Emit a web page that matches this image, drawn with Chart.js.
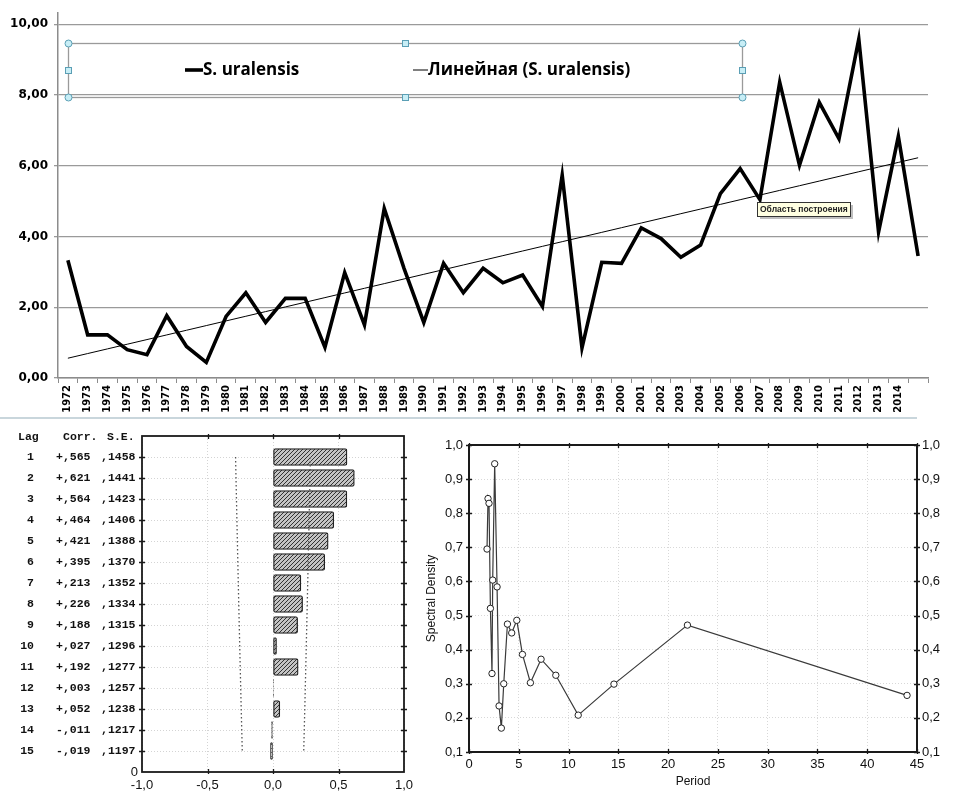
<!DOCTYPE html>
<html>
<head>
<meta charset="utf-8">
<script src="https://cdn.jsdelivr.net/npm/chart.js@4.4.0/dist/chart.umd.min.js"></script>
<style>
  html, body { margin: 0; padding: 0; background: #fff; width: 972px; height: 793px; overflow: hidden; }
  canvas { position: absolute; }
  #sep { position: absolute; left: 0; top: 417px; width: 917px; height: 2px; background: #c9d6dc; }
</style>
</head>
<body>
<canvas id="trend-chart" width="972" height="418" style="left:0;top:0"></canvas>
<div id="sep"></div>
<canvas id="acf-chart" width="420" height="373" style="left:0;top:420px"></canvas>
<canvas id="spectrum-chart" width="552" height="373" style="left:420px;top:420px"></canvas>
<script>
// Top chart: yearly series
const years = [1972, 1973, 1974, 1975, 1976, 1977, 1978, 1979, 1980, 1981, 1982, 1983, 1984, 1985,
  1986, 1987, 1988, 1989, 1990, 1991, 1992, 1993, 1994, 1995, 1996, 1997, 1998, 1999, 2000, 2001,
  2002, 2003, 2004, 2005, 2006, 2007, 2008, 2009, 2010, 2011, 2012, 2013, 2014, 2015];
const uralensis = [3.33, 1.22, 1.22, 0.80, 0.66, 1.76, 0.89, 0.44, 1.74, 2.41, 1.57, 2.25, 2.25, 0.87,
  2.98, 1.50, 4.79, 3.10, 1.57, 3.24, 2.41, 3.10, 2.69, 2.91, 2.02, 5.73, 0.85, 3.27, 3.24, 4.24,
  3.94, 3.41, 3.76, 5.21, 5.92, 5.04, 8.36, 6.01, 7.79, 6.76, 9.58, 4.13, 6.83, 3.45];
const topYTicks = [0, 2, 4, 6, 8, 10];

// Bottom left: autocorrelation table
const lags = [1, 2, 3, 4, 5, 6, 7, 8, 9, 10, 11, 12, 13, 14, 15];
const corr = [0.565, 0.621, 0.564, 0.464, 0.421, 0.395, 0.213, 0.226, 0.188, 0.027, 0.192, 0.003, 0.052, -0.011, -0.019];
const stdErr = [0.1458, 0.1441, 0.1423, 0.1406, 0.1388, 0.1370, 0.1352, 0.1334, 0.1315, 0.1296, 0.1277, 0.1257, 0.1238, 0.1217, 0.1197];
const acfXTicks = [-1, -0.5, 0, 0.5, 1];

// Bottom right: spectral density by period
const periods = [1.81, 1.91, 2.01, 2.15, 2.31, 2.38, 2.58, 2.82, 3.02, 3.25, 3.49, 3.86, 4.29, 4.80,
  5.37, 6.17, 7.24, 8.72, 10.97, 14.56, 21.94, 44.0];
const density = [0.695, 0.843, 0.829, 0.521, 0.330, 0.604, 0.945, 0.584, 0.235, 0.170, 0.300, 0.475,
  0.449, 0.486, 0.386, 0.303, 0.372, 0.325, 0.208, 0.299, 0.472, 0.266];
const specXTicks = [0, 5, 10, 15, 20, 25, 30, 35, 40, 45];
const specYTicks = [0.1, 0.2, 0.3, 0.4, 0.5, 0.6, 0.7, 0.8, 0.9, 1.0];

const comma = (v, d) => v.toFixed(d).replace('.', ',');
const setTicks = arr => scale => { scale.ticks = arr.map(v => ({ value: v })); };

// least squares line, like the spreadsheet "linear" trendline
function linearFit(values) {
  const n = values.length;
  let sx = 0, sy = 0, sxy = 0, sxx = 0;
  values.forEach((y, i) => { sx += i; sy += y; sxy += i * y; sxx += i * i; });
  const b = (n * sxy - sx * sy) / (n * sxx - sx * sx);
  const a = (sy - b * sx) / n;
  return values.map((_, i) => a + b * i);
}

// diagonal hatch fill for the bars
function hatchPattern() {
  const c = document.createElement('canvas');
  c.width = c.height = 4;
  const g = c.getContext('2d');
  g.fillStyle = '#c4c4c4';
  g.fillRect(0, 0, 4, 4);
  g.strokeStyle = '#333';
  g.lineWidth = 1;
  g.beginPath();
  g.moveTo(0, 4); g.lineTo(4, 0);
  g.moveTo(-1, 1); g.lineTo(1, -1);
  g.moveTo(3, 5); g.lineTo(5, 3);
  g.stroke();
  return g.createPattern(c, 'repeat');
}

// legend box with selection handles and the little hint label
const legendBox = {
  id: 'legendBox',
  afterDraw(chart) {
    const c = chart.ctx;
    const ds = chart.data.datasets;
    c.save();
    c.strokeStyle = '#9a9a9a';
    c.lineWidth = 1.3;
    c.strokeRect(68.5, 43.5, 674, 54);
    c.fillStyle = '#c8eef6';
    c.strokeStyle = '#5b9fb5';
    c.lineWidth = 1;
    [[68.5, 43.5], [742.5, 43.5], [68.5, 97.5], [742.5, 97.5]].forEach(([x, y]) => {
      c.beginPath(); c.arc(x, y, 3.5, 0, Math.PI * 2); c.fill(); c.stroke();
    });
    [[405.5, 43.5], [405.5, 97.5], [68.5, 70.5], [742.5, 70.5]].forEach(([x, y]) => {
      c.fillRect(x - 3, y - 3, 6, 6); c.strokeRect(x - 3, y - 3, 6, 6);
    });
    c.strokeStyle = '#000';
    c.fillStyle = '#000';
    c.font = 'bold 17px "Open Sans"';
    c.textBaseline = 'middle';
    c.lineWidth = 3.6;
    c.beginPath(); c.moveTo(185, 70); c.lineTo(203, 70); c.stroke();
    c.fillText(ds[0].label, 203, 70);
    c.lineWidth = 1;
    c.beginPath(); c.moveTo(413, 70); c.lineTo(428, 70); c.stroke();
    c.fillText(ds[1].label, 428, 70);
    // hint label
    c.fillStyle = 'rgba(0,0,0,0.25)';
    c.fillRect(760, 205, 93, 14);
    c.fillStyle = '#ffffe1';
    c.fillRect(757.5, 202.5, 93, 14);
    c.strokeStyle = '#333';
    c.strokeRect(757.5, 202.5, 93, 14);
    c.fillStyle = '#222';
    c.font = 'bold 8.5px "Liberation Sans"';
    c.fillText('Область построения', 760, 210);
    c.restore();
  }
};

new Chart(document.getElementById('trend-chart'), {
  type: 'line',
  data: {
    labels: years,
    datasets: [
      { label: 'S. uralensis', data: uralensis, borderColor: '#000', borderWidth: 3.6,
        pointRadius: 0, borderJoinStyle: 'miter', tension: 0 },
      { label: 'Линейная (S. uralensis)', data: linearFit(uralensis), borderColor: '#000',
        borderWidth: 1, pointRadius: 0 }
    ]
  },
  options: {
    responsive: false,
    animation: false,
    layout: { padding: { top: 0, right: 44, left: 0, bottom: 0 } },
    plugins: { legend: { display: false }, tooltip: { enabled: false } },
    scales: {
      x: {
        offset: true,
        grid: { drawOnChartArea: false, offset: true, tickLength: 5, color: '#8c8c8c' },
        border: { color: '#8c8c8c', width: 1.5 },
        ticks: {
          autoSkip: false, minRotation: 90, maxRotation: 90, padding: 2, color: '#000',
          font: { family: 'DejaVu Sans', weight: 'bold', size: 10 },
          callback: (v, i) => (i < years.length - 1 ? String(years[i]) : '')
        },
        afterFit: s => { s.height = 40; }
      },
      y: {
        min: 0, max: 10.31,
        afterBuildTicks: setTicks(topYTicks),
        grid: { color: '#9a9a9a', lineWidth: 1.3, tickLength: 4 },
        border: { color: '#8c8c8c', width: 1.5 },
        ticks: {
          padding: 6, color: '#000',
          font: { family: 'DejaVu Sans', weight: 'bold', size: 12 },
          callback: v => comma(v, 2)
        },
        afterFit: s => { s.width = 58; }
      }
    }
  },
  plugins: [legendBox]
});

// frame and small tick marks drawn the way the stats package does it
function frameTicks(chart, xVals, yVals, width) {
  const c = chart.ctx;
  const a = chart.chartArea;
  const xs = chart.scales.x, ys = chart.scales.y;
  c.save();
  c.strokeStyle = '#1a1a1a';
  c.lineWidth = 1.3;
  c.beginPath();
  xVals.forEach(v => {
    const px = Math.round(xs.getPixelForValue(v)) + 0.5;
    c.moveTo(px, a.top - 2); c.lineTo(px, a.top + 3);
    c.moveTo(px, a.bottom + 2); c.lineTo(px, a.bottom - 3);
  });
  yVals.forEach(v => {
    const py = Math.round(ys.getPixelForValue(v)) + 0.5;
    c.moveTo(a.left - 3, py); c.lineTo(a.left + 3, py);
    c.moveTo(a.right - 3, py); c.lineTo(a.right + 3, py);
  });
  c.stroke();
  c.lineWidth = width;
  c.strokeRect(a.left, a.top, a.right - a.left, a.bottom - a.top);
  c.restore();
}

const acfTable = {
  id: 'acfTable',
  afterDraw(chart) {
    const c = chart.ctx;
    const ys = chart.scales.y;
    frameTicks(chart, [-0.5, 0, 0.5], lags, 1.8);
    c.save();
    c.fillStyle = '#111';
    c.font = 'bold 11.5px "Liberation Mono"';
    c.textBaseline = 'middle';
    c.textAlign = 'left';
    c.fillText('Lag', 18, 17);
    c.fillText('Corr.', 63, 17);
    c.fillText('S.E.', 107, 17);
    lags.forEach((lag, i) => {
      const y = ys.getPixelForValue(lag);
      const r = corr[i];
      c.textAlign = 'right';
      c.fillText(String(lag), 34, y);
      c.textAlign = 'left';
      c.fillText((r < 0 ? '-' : '+') + ',' + Math.abs(r).toFixed(3).slice(2), 56, y);
      c.fillText(',' + stdErr[i].toFixed(4).slice(2), 101, y);
    });
    c.font = '13px "Liberation Sans"';
    c.textAlign = 'right';
    c.fillText('0', 138, chart.chartArea.bottom);
    c.restore();
  }
};

new Chart(document.getElementById('acf-chart'), {
  type: 'bar',
  data: {
    datasets: [
      { type: 'bar', order: 2, data: lags.map((l, i) => ({ x: corr[i], y: l })),
        backgroundColor: hatchPattern(), borderColor: '#222', borderWidth: 1.3,
        borderSkipped: false, borderRadius: 2, barThickness: 17 },
      { type: 'line', order: 1, data: lags.map((l, i) => ({ x: 1.96 * stdErr[i], y: l })),
        borderColor: '#555', borderWidth: 1.3, borderDash: [1.5, 2.5], pointRadius: 0 },
      { type: 'line', order: 1, data: lags.map((l, i) => ({ x: -1.96 * stdErr[i], y: l })),
        borderColor: '#555', borderWidth: 1.3, borderDash: [1.5, 2.5], pointRadius: 0 }
    ]
  },
  options: {
    responsive: false,
    animation: false,
    indexAxis: 'y',
    layout: { padding: { top: 16, right: 16, left: 0, bottom: 0 } },
    plugins: { legend: { display: false }, tooltip: { enabled: false } },
    scales: {
      x: {
        type: 'linear', min: -1, max: 1, offset: false,
        afterBuildTicks: setTicks(acfXTicks),
        grid: { color: '#d4d4d4', drawTicks: false, offset: false },
        border: { display: false, dash: [1, 2] },
        ticks: { padding: 6, color: '#111', font: { family: 'Liberation Sans', size: 13 },
          callback: v => comma(v, 1) },
        afterFit: s => { s.height = 21; }
      },
      y: {
        type: 'linear', reverse: true, min: 0, max: 16, offset: false,
        afterBuildTicks: setTicks(lags),
        grid: { color: '#d4d4d4', drawTicks: false, offset: false },
        border: { display: false, dash: [1, 2] },
        ticks: { display: false },
        afterFit: s => { s.width = 142; }
      }
    }
  },
  plugins: [acfTable]
});

const specFrame = {
  id: 'specFrame',
  afterDraw(chart) { frameTicks(chart, specXTicks, specYTicks, 2); }
};

const tickFont = { family: 'Liberation Sans', size: 13 };
new Chart(document.getElementById('spectrum-chart'), {
  type: 'line',
  data: {
    datasets: [{
      data: periods.map((p, i) => ({ x: p, y: density[i] })),
      borderColor: '#3a3a3a', borderWidth: 1.2, tension: 0,
      pointRadius: 3.2, pointBorderWidth: 1, pointBackgroundColor: '#fff', pointBorderColor: '#222'
    }]
  },
  options: {
    responsive: false,
    animation: false,
    layout: { padding: { top: 25, right: 0, left: 0, bottom: 0 } },
    plugins: { legend: { display: false }, tooltip: { enabled: false } },
    scales: {
      x: {
        type: 'linear', min: 0, max: 45,
        afterBuildTicks: setTicks(specXTicks),
        grid: { color: '#d8d8d8', drawTicks: false },
        border: { display: false, dash: [1, 2] },
        ticks: { padding: 5, color: '#111', font: tickFont, callback: v => String(v) },
        title: { display: true, text: 'Period', color: '#111', padding: { top: 0, bottom: 4 },
          font: { family: 'Liberation Sans', size: 12 } },
        afterFit: s => { s.height = 41; }
      },
      y: {
        min: 0.1, max: 1.0,
        afterBuildTicks: setTicks(specYTicks),
        grid: { color: '#d8d8d8', drawTicks: false },
        border: { display: false, dash: [1, 2] },
        ticks: { padding: 6, color: '#111', font: tickFont, callback: v => comma(v, 1) },
        title: { display: true, text: 'Spectral Density', color: '#111', padding: { top: 4, bottom: 0 },
          font: { family: 'Liberation Sans', size: 12 } },
        afterFit: s => { s.width = 49; }
      },
      y2: {
        position: 'right', min: 0.1, max: 1.0,
        afterBuildTicks: setTicks(specYTicks),
        grid: { drawOnChartArea: false, drawTicks: false },
        border: { display: false },
        ticks: { padding: 5, color: '#111', font: tickFont, callback: v => comma(v, 1) },
        afterFit: s => { s.width = 55; }
      }
    }
  },
  plugins: [specFrame]
});
</script>
</body>
</html>
